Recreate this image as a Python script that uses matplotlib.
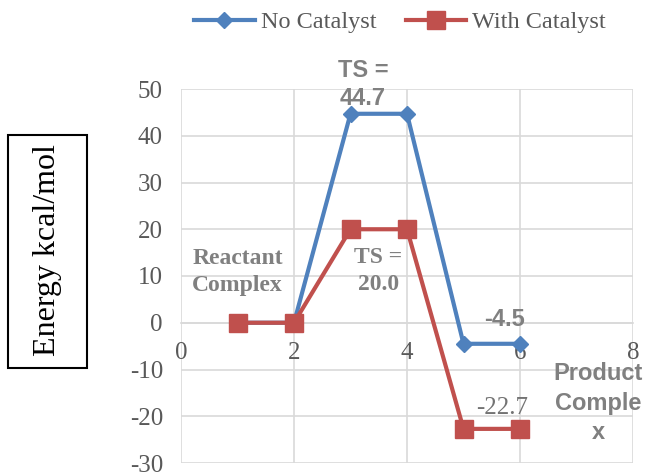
import matplotlib
matplotlib.use("Agg")
import matplotlib.pyplot as plt
from matplotlib.patches import Rectangle

plt.rcParams["axes.unicode_minus"] = False

# Data
steps = [1, 2, 3, 4, 5, 6]
no_catalyst = [0, 0, 44.7, 44.7, -4.5, -4.5]
with_catalyst = [0, 0, 20.0, 20.0, -22.7, -22.7]
x_ticks = [0, 2, 4, 6, 8]
y_ticks = [-30, -20, -10, 0, 10, 20, 30, 40, 50]

BLUE = "#4F81BD"
RED = "#C0504D"
GRID = "#D9D9D9"
TICK = "#595959"
ANN = "#808080"
SERIF = "Liberation Serif"
SANS = "Liberation Sans"

fig = plt.figure(figsize=(6.46, 4.72), dpi=100)
ax = fig.add_axes([181/646, 1-463/472, (633-181)/646, (463-89)/472])

ax.plot(steps, no_catalyst, color=BLUE, lw=3, marker="D", markersize=8,
        label="No Catalyst", zorder=3)
ax.plot(steps, with_catalyst, color=RED, lw=3, marker="s", markersize=13,
        label="With Catalyst", zorder=4)

ax.set_xlim(0, 8)
ax.set_ylim(-30, 50)
ax.set_xticks(x_ticks)
ax.set_yticks(y_ticks)
ax.grid(True, color=GRID, lw=1.2, zorder=0)
ax.set_axisbelow(True)
for s in ["top", "right", "left"]:
    ax.spines[s].set_visible(False)
ax.spines["bottom"].set_position(("data", 0))
ax.spines["bottom"].set_color(GRID)
ax.spines["bottom"].set_linewidth(1.2)
ax.tick_params(axis="both", length=0, colors=TICK, labelsize=18)
ax.tick_params(axis="x", pad=14)
ax.tick_params(axis="y", pad=13)
for lab in ax.get_xticklabels() + ax.get_yticklabels():
    lab.set_fontfamily(SERIF)

# Annotations
ax.text(3.22, 50.9, "TS =\n44.7", ha="center", va="center", fontsize=17,
        fontweight="bold", family=SANS, color=ANN, clip_on=False, linespacing=1.3)
ax.text(1.0, 10.9, "Reactant\nComplex", ha="center", va="center", fontsize=17,
        fontweight="bold", family=SERIF, color=ANN, linespacing=1.4)
ax.text(3.49, 11.1, "TS =\n20.0", ha="center", va="center", fontsize=17,
        fontweight="bold", family=SERIF, color=ANN, linespacing=1.4)
ax.text(5.72, 0.8, "-4.5", ha="center", va="center", fontsize=17,
        fontweight="bold", family=SANS, color=ANN)
ax.text(5.68, -18.3, "-22.7", ha="center", va="center", fontsize=18,
        family=SERIF, color="#737373")
ax.text(7.38, -17.2, "Product\nComple\nx", ha="center", va="center", fontsize=17,
        fontweight="bold", family=SANS, color=ANN, clip_on=False, linespacing=1.35)

# Y label in box
fig.patches.append(Rectangle((8/646, 1-368/472), 79/646, 233/472,
                             transform=fig.transFigure, fill=False,
                             edgecolor="black", lw=1.5))
fig.text(47.5/646, 1-250/472, "Energy kcal/mol", rotation=90, ha="center",
         va="center", fontsize=23, family=SERIF, color="black")

# Legend
fig.legend(loc="center", bbox_to_anchor=(400/646, 1-22/472), ncol=2,
           frameon=False, prop={"family": SERIF, "size": 17.5},
           handlelength=2.5, handletextpad=0.25, columnspacing=1.2,
           labelcolor=TICK)

fig.savefig("out.png", dpi=100)
